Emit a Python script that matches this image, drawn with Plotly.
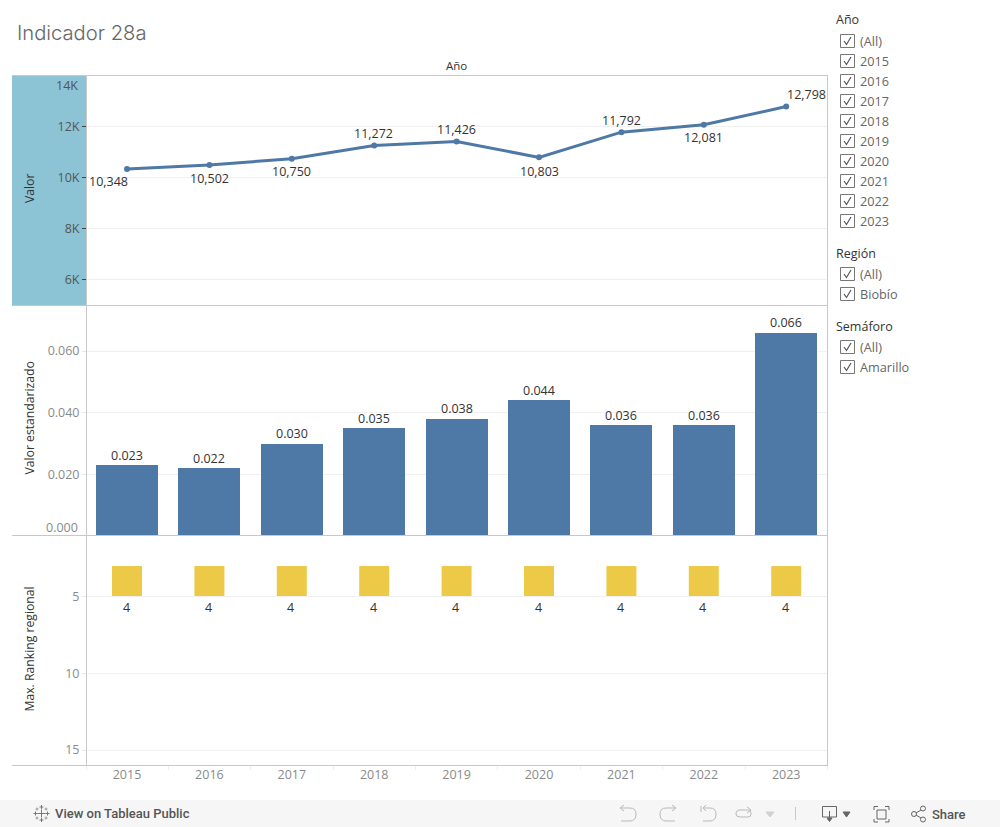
import re
import plotly.graph_objects as go

# ---- data ----
years = [2015, 2016, 2017, 2018, 2019, 2020, 2021, 2022, 2023]
valor = [10348, 10502, 10750, 11272, 11426, 10803, 11792, 12081, 12798]
valor_estandarizado = [0.023, 0.022, 0.030, 0.035, 0.038, 0.044, 0.036, 0.036, 0.066]
ranking = [4, 4, 4, 4, 4, 4, 4, 4, 4]
valor_ticks = [6000, 8000, 10000, 12000]
valor_ticktext = ["6K", "8K", "10K", "12K"]
est_ticks = [0.02, 0.04, 0.06]
est_ticktext = ["0.020", "0.040", "0.060"]
rank_ticks = [5, 10, 15]
filter_year = ["(All)", "2015", "2016", "2017", "2018", "2019", "2020", "2021", "2022", "2023"]
filter_region = ["(All)", "Biobío"]
filter_semaforo = ["(All)", "Amarillo"]

# ---- page geometry / style ----
W, H = 1000, 827
FONT = "Open Sans"
BLUE = "#4e79a7"
YELLOW = "#edc948"
GRID = "#f0f0f0"
FRAME = "#c8c8c8"
TXT = "#333333"
MUTED = "#8a8a8a"
TOOL = "#b9b9b9"
TOOLD = "#666666"
LBL = 12.5


def dx(v):
    return v / W


def dy(v):
    return 1 - v / H


def p(path):
    toks = re.findall(r"[MLQCZ]|-?\d+\.?\d*", path)
    out, isx = [], True
    for t in toks:
        if t.isalpha():
            out.append(t)
            isx = True
        else:
            out.append(f"{dx(float(t)):.5f}" if isx else f"{dy(float(t)):.5f}")
            isx = not isx
    return " ".join(out)


shapes, ann = [], []


def line(x0, y0, x1, y1, color=FRAME, width=1):
    shapes.append(dict(type="line", xref="paper", yref="paper", x0=dx(x0), x1=dx(x1), y0=dy(y0), y1=dy(y1),
                       line=dict(color=color, width=width), layer="above"))


def rect(x0, y0, x1, y1, fill=None, color=None, width=1, layer="above"):
    shapes.append(dict(type="rect", xref="paper", yref="paper", x0=dx(x0), x1=dx(x1), y0=dy(y0), y1=dy(y1),
                       fillcolor=fill or "rgba(0,0,0,0)",
                       line=dict(color=color or "rgba(0,0,0,0)", width=width if color else 0), layer=layer))


def path(d, color=TOOL, width=1, fill=None):
    shapes.append(dict(type="path", xref="paper", yref="paper", path=p(d),
                       line=dict(color=color, width=width),
                       fillcolor=fill or "rgba(0,0,0,0)", layer="above"))


def text(x, y, s, size=12, color=TXT, anchor="left", angle=0, family=FONT, weight=None):
    f = dict(family=family, size=size, color=color)
    if weight:
        f["weight"] = weight
    ann.append(dict(xref="paper", yref="paper", x=dx(x), y=dy(y), text=s, showarrow=False, xanchor=anchor,
                    yanchor="middle", textangle=angle, font=f))


# ---- traces ----
fig = go.Figure()
fig.add_trace(go.Scatter(x=years, y=valor, mode="lines+markers", line=dict(color=BLUE, width=3),
                         marker=dict(color=BLUE, size=6), xaxis="x", yaxis="y", hoverinfo="x+y", showlegend=False))
fig.add_trace(go.Bar(x=years, y=valor_estandarizado, width=0.752, marker=dict(color=BLUE, line=dict(width=0)),
                     xaxis="x2", yaxis="y2", showlegend=False))
fig.add_trace(go.Scatter(x=years, y=ranking, mode="markers",
                         marker=dict(symbol="square", size=30, color=YELLOW, line=dict(width=0)),
                         xaxis="x3", yaxis="y3", showlegend=False))

# value labels on the line: (x shift, y shift) per point
line_offsets = [(-19, -13), (0, -13), (0, -13), (-1, 12), (0, 12), (0, -14), (0, 12), (0, -13), (20, 12)]
for yr, v, (sx, sy) in zip(years, valor, line_offsets):
    ann.append(dict(xref="x", yref="y", x=yr, y=v, text=f"{v:,}", showarrow=False, xshift=sx, yshift=sy,
                    font=dict(family=FONT, size=LBL, color=TXT)))
for yr, v in zip(years, valor_estandarizado):
    ann.append(dict(xref="x2", yref="y2", x=yr, y=v, text=f"{v:.3f}", showarrow=False, yshift=10,
                    font=dict(family=FONT, size=LBL, color=TXT)))
for yr, v in zip(years, ranking):
    ann.append(dict(xref="x3", yref="y3", x=yr, y=v, text=str(v), showarrow=False, yshift=-26, xshift=-1,
                    font=dict(family=FONT, size=LBL, color=TXT)))
# edge tick labels sit inside the pane
ann.append(dict(xref="paper", yref="y", x=dx(80), y=14000, text="14K", showarrow=False, xanchor="right", yshift=-9,
                font=dict(family=FONT, size=LBL, color="#555555")))
ann.append(dict(xref="paper", yref="y2", x=dx(80), y=0, text="0.000", showarrow=False, xanchor="right", yshift=9,
                font=dict(family=FONT, size=LBL, color=MUTED)))

# ---- chrome ----
rect(12, 76, 86, 305, fill="#8cc3d5", layer="below")
line(12, 75.5, 827, 75.5)
line(12, 305.5, 827, 305.5)
line(12, 535.5, 827, 535.5)
line(12, 765.5, 827, 765.5)
line(86.5, 76, 86.5, 766)
line(827.5, 75, 827.5, 766)
line(86.5, 766, 86.5, 770, color="#eeeeee")
line(827.5, 766, 827.5, 770, color="#eeeeee")

text(15, 33, "Indicador 28a", size=20.2, color="#666666", family="Inter", weight=300)
text(456.5, 65.5, "Año", size=11.5, color=TXT, anchor="center")
text(29, 189, "Valor", size=12.2, color=TXT, anchor="center", angle=-90)
text(29, 418.5, "Valor estandarizado", size=12.2, color=TXT, anchor="center", angle=-90)
text(29, 649.5, "Max. Ranking regional", size=12.2, color=TXT, anchor="center", angle=-90)


def checkbox_group(title, title_y, items, first_y):
    text(834, title_y, title, size=12.5, color=TXT)
    for i, it in enumerate(items):
        y = first_y + 20 * i
        rect(840.5, y - 6.5, 854.5, y + 6.5, color="#777777")
        path(f"M 844 {y} L 846.5 {y + 3.5} L 851 {y - 4}", color="#555555", width=1.2)
        text(858, y + 0.2, it, size=12.7, color="#666666")


checkbox_group("Año", 20, filter_year, 41)
checkbox_group("Región", 254, filter_region, 274)
checkbox_group("Semáforo", 326, filter_semaforo, 347)

# toolbar
rect(0, 800, 1000, 827, fill="#f6f6f6", layer="below")
text(53, 813.5, "View on Tableau Public", size=13, color="#555555", family="Roboto", weight=500)
for cx, cy, r in [(41.5, 813.5, 4), (35.5, 813.5, 2), (47.5, 813.5, 2), (41.5, 807, 2), (41.5, 820, 2)]:
    line(cx - r, cy, cx + r, cy, color="#777777")
    line(cx, cy - r, cx, cy + r, color="#777777")
for cx, cy in [(37, 809), (46, 809), (37, 818), (46, 818)]:
    line(cx - 1.5, cy, cx + 1.5, cy, color="#999999")
    line(cx, cy - 1.5, cx, cy + 1.5, color="#999999")

path("M 621 808 L 630 808 Q 636 808 636 814 Q 636 821 630 821 L 621 821", TOOL)
path("M 624 805 L 620 808 L 624 811", TOOL)
path("M 675 808 L 666 808 Q 660 808 660 814 Q 660 821 666 821 L 675 821", TOOL)
path("M 672 805 L 676 808 L 672 811", TOOL)
path("M 703 808 L 710 808 Q 716 808 716 814 Q 716 821 710 821 L 703 821", TOOL)
path("M 706 805 L 703 808 L 706 811", TOOL)
line(701, 806, 701, 812, TOOL)
path("M 740 810 L 748 810 Q 751 810 751 814 Q 751 817 748 817 L 740 817 Q 736 817 736 814 Q 736 810 740 810", TOOL)
path("M 747 807 L 751 810 L 747 813", TOOL)
path("M 766 812 L 774 812 L 770 817 Z", "#d0d0d0", fill="#d0d0d0")
line(795.5, 807, 795.5, 820, "#c8c8c8")
path("M 829 817 L 822.5 817 L 822.5 806.5 L 836.5 806.5 L 836.5 817 L 830 817", TOOLD)
line(829.5, 811, 829.5, 821, TOOLD)
path("M 827 818 L 829.5 821.5 L 832 818 Z", TOOLD, fill=TOOLD)
path("M 843 812 L 850 812 L 846.5 817 Z", TOOLD, fill=TOOLD)
rect(877, 810, 886, 819, color=TOOLD)
for a, b, c in [("874 810", "874 806.5", "878 806.5"), ("885 806.5", "889 806.5", "889 810"),
                ("889 819", "889 822", "885 822"), ("878 822", "874 822", "874 819")]:
    path(f"M {a} L {b} L {c}", TOOLD)


def circle(cx, cy, r, color):
    shapes.append(dict(type="circle", xref="paper", yref="paper", x0=dx(cx - r), x1=dx(cx + r), y0=dy(cy - r),
                       y1=dy(cy + r), line=dict(color=color, width=1), fillcolor="rgba(0,0,0,0)", layer="above"))


circle(914, 814, 2.5, TOOLD)
circle(923, 808.5, 2.5, TOOLD)
circle(923, 819.5, 2.5, TOOLD)
line(916, 813, 921, 810, TOOLD)
line(916, 815, 921, 818, TOOLD)
text(930, 814, "Share", size=13, color="#555555", family="Roboto", weight=500)

# ---- axes ----
xrange = [2014.5145, 2023.495]
minor_ticks = [y + 0.5 for y in years[:-1]]


def dom(top, bottom):
    return [1 - bottom / H, 1 - top / H]


base_x = dict(range=xrange, showgrid=False, zeroline=False, showline=False)
base_y = dict(showline=False, zeroline=False, showgrid=True, gridcolor=GRID, gridwidth=1, ticks="outside", ticklen=4,
              tickcolor="#e8e8e8", tickfont=dict(family=FONT, size=LBL, color=MUTED))
fig.update_layout(
    width=W, height=H, autosize=False, margin=dict(l=0, r=0, t=0, b=0), paper_bgcolor="white", plot_bgcolor="rgba(0,0,0,0)",
    showlegend=False, bargap=0, shapes=shapes, annotations=ann, font=dict(family=FONT),
    xaxis=dict(base_x, domain=[dx(87), dx(827)], anchor="y", showticklabels=False, ticks=""),
    xaxis2=dict(base_x, domain=[dx(87), dx(827)], anchor="y2", showticklabels=False, ticks=""),
    xaxis3=dict(base_x, domain=[dx(87), dx(827)], anchor="y3", tickmode="array", tickvals=years,
                ticktext=[str(y) for y in years], ticks="", ticklen=0,
                tickfont=dict(family=FONT, size=LBL, color=MUTED),
                minor=dict(tickmode="array", tickvals=minor_ticks, ticks="outside", ticklen=4, tickcolor="#eeeeee")),
    yaxis=dict(base_y, domain=dom(76, 305), anchor="x", range=[5000, 14000], tickmode="array", tickvals=valor_ticks,
               ticktext=valor_ticktext, tickcolor="#444444", tickfont=dict(family=FONT, size=LBL, color="#555555")),
    yaxis2=dict(base_y, domain=dom(306, 536), anchor="x2", range=[0, 0.0746], tickmode="array", tickvals=est_ticks,
                ticktext=est_ticktext),
    yaxis3=dict(base_y, domain=dom(536, 765), anchor="x3", range=[15.97, 1.07], tickmode="array", tickvals=rank_ticks,
                ticktext=[str(t) for t in rank_ticks]),
)

fig.write_html("out.html", config=dict(displayModeBar=False),
               post_script="document.body.style.margin='0';document.body.style.overflow='hidden';")
